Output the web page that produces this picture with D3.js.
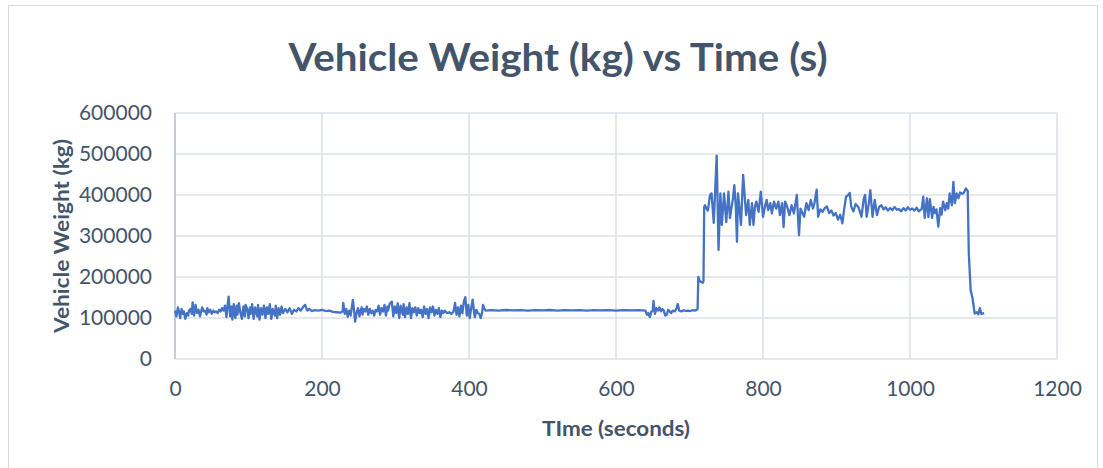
<!DOCTYPE html>
<html>
<head>
<meta charset="utf-8">
<script src="https://cdn.jsdelivr.net/npm/d3@7/dist/d3.min.js"></script>
<style>
  html, body { margin: 0; padding: 0; background: #ffffff; }
  svg { display: block; }
</style>
</head>
<body>
<svg id="chart" width="1103" height="468"></svg>
<script>
// Chart text
const chartTitle = "Vehicle Weight (kg) vs Time (s)";
const xAxisTitle = "TIme (seconds)";
const yAxisTitle = "Vehicle Weight (kg)";

// Axis ticks
const xTicks = [0, 200, 400, 600, 800, 1000, 1200];
const yTicks = [0, 100000, 200000, 300000, 400000, 500000, 600000];

// Logged samples: [time (s), vehicle weight (kg)]
const idleSamples = [
  [0,118000],[2,104000],[4,126000],[5,120000],[7,100000],[9,122000],[11,110000],[12,116000],[14,98000],
  [16,112000],[18,106000],[19,118000],[21,122000],[23,110000],[24,138000],[26,106000],[28,132000],[30,112000],
  [32,120000],[34,104000],[35,112000],[37,126000],[39,116000],[41,118000],[43,108000],[44,124000],[46,114000],
  [48,120000],[50,110000],[52,118000],[54,114000],[56,116000],[58,112000],[60,120000],[62,116000],
  [64,124000],[66,118000],[68,130000],[70,102000],[72,138000],[73,152000],[75,104000],[77,128000],
  [78,96000],[80,134000],[82,100000],[84,130000],[85,108000],[87,136000],[89,112000],[91,98000],[93,128000],
  [95,104000],[96,132000],[98,124000],[100,100000],[102,126000],[103,110000],[105,134000],[107,98000],[109,126000],
  [110,118000],[112,104000],[113,132000],[115,96000],[117,124000],[119,108000],[121,130000],[122,120000],[123,100000],[125,126000],
  [127,110000],[129,134000],[131,98000],[133,122000],[134,114000],[136,106000],[137,130000],[139,100000],[141,124000],
  [143,108000],[145,128000],[147,112000],[150,122000],[153,114000],[156,124000],[159,110000],[162,120000],
  [165,116000],[168,124000],[171,118000],[174,126000],[177,132000],[180,118000],[183,122000],[186,117000],
  [190,119000],[195,118000],[200,120000],[205,117000],[210,118000],[215,115000],[220,114000],[225,113000],
  [228,116000],[229,137000],[231,110000],[233,122000],[235,103000],[237,118000],[239,106000],[242,144000],
  [244,112000],[245,91000],[247,112000],[249,124000],[251,104000],[252,116000],[254,126000],[255,108000],[257,122000],
  [259,116000],[261,128000],[263,108000],[265,122000],[267,112000],[269,118000],[271,106000],[273,120000],
  [275,116000],[277,130000],[279,108000],[281,124000],[283,116000],[285,132000],[287,106000],[289,128000],
  [290,118000],[292,134000],[295,140000],[297,104000],[299,128000],[301,112000],[303,136000],[305,100000],
  [307,130000],[308,122000],[310,108000],[311,134000],[313,102000],[315,126000],[317,110000],[319,136000],[321,100000],
  [323,124000],[325,114000],[327,126000],[329,106000],[331,124000],[333,112000],[335,120000],[337,102000],
  [339,128000],[341,110000],[343,122000],[345,100000],[347,126000],[349,114000],[351,128000],[353,106000],
  [355,120000],[357,110000],[359,124000],[361,102000],[363,118000],[365,112000],[367,118000],[370,112000],
  [373,114000],[376,110000],[379,116000],[381,137000],[383,108000],[385,126000],[387,104000],[389,130000],
  [391,112000],[393,140000],[395,151000],[397,106000],[399,132000],[401,100000],[403,124000],[405,145000],
  [407,112000],[408,102000],[410,120000],[412,112000],[414,110000],[416,100000],[418,114000],[419,132000],
  [421,122000],[423,118000]
];

const steadySamples = [
  [430,119000],[440,118000],[450,119500],[460,118500],[470,119000],[480,118000],[490,119000],[500,118500],
  [510,119500],[520,118000],[530,119000],[540,118500],[550,119000],[560,118000],[570,119000],[580,118500],
  [590,119000],[600,118000],[610,119000],[620,118500],[630,119000],[640,118000],
  [642,108000],[644,112000],[646,102000],[648,115000],[650,118000],[651,142000],[653,110000],[655,124000],
  [657,118000],[659,126000],[661,116000],[663,122000],[665,118000],[667,106000],[669,108000],[671,120000],
  [673,116000],[675,112000],[677,118000],[680,116000],[682,122000],[684,134000],[686,118000],[689,116000],
  [692,119000],[695,117000],[698,118000],[701,117000],[704,119000],[707,118000],[710,120000],[711,122000]
];

const loadedSamples = [
  [712,200000],[714,190000],[716,188000],[718,186000],[719,190000],[720,371000],[721,375000],[723,368000],
  [725,362000],[728,400000],[730,404000],[733,332000],[737,496000],[739.5,266000],[742,404000],[744,327000],
  [747,404000],[750,334000],[753,408000],[755,344000],[759,390000],[761,424000],[763,371000],[764.6,286000],
  [766,404000],[768,367000],[770,327000],[773,449000],[775,400000],[777,351000],[780,388000],[782,327000],
  [785,380000],[787,327000],[789,371000],[791,384000],[794,359000],[797,408000],[800,347000],[803,375000],
  [805,388000],[807,363000],[810,380000],[812,355000],[815,384000],[818,367000],[821,384000],[823,351000],
  [826,380000],[828,322000],[830,384000],[833,371000],[836,351000],[839,375000],[842,355000],[846,400000],
  [849,302000],[851,367000],[856,347000],[859,380000],[862,363000],[865,388000],[868,367000],[870,380000],
  [873,413000],[875,347000],[878,365000],[881,359000],[884,368000],[887,372000],[890,356000],[893,362000],
  [896,350000],[899,356000],[902,340000],[905,352000],[908,331000],[910,360000],[913,396000],[915,398000],
  [918,405000],[920,372000],[923,360000],[926,378000],[930,370000],[934,347000],[937,390000],[939,400000],
  [941,347000],[944,380000],[946,412000],[949,347000],[952,388000],[955,351000],[958,371000],[961,375000],
  [964,365000],[967,370000],[970,362000],[973,368000],[976,363000],[979,371000],[982,364000],[985,366000],
  [988,360000],[991,368000],[994,362000],[997,370000],[1000,364000],[1003,367000],[1006,362000],[1009,369000],
  [1012,360000],[1016,366000],[1018,396000],[1020,344000],[1023,392000],[1025,346000],[1027,390000],
  [1030,344000],[1032,371000],[1034,356000],[1036,365000],[1038.5,323000],[1041,368000],[1043,352000],
  [1045,384000],[1048,363000],[1050,380000],[1052,367000],[1054,404000],[1057,375000],[1059,432000],
  [1061,380000],[1063.5,404000],[1066,392000],[1068,406000],[1071,403000],[1073,405000],[1076,416000],
  [1078.5,410000],[1080,258000],[1082.5,168000],[1085,149000],[1088,111000],[1091,114000],[1093,109000],
  [1095,124000],[1097,110000],[1101,112000]
];

const samples = idleSamples.concat(steadySamples, loadedSamples);

// Layout
const plot = { left: 175, right: 1057, top: 113, bottom: 359 };
const textColor = "#44546a";
const gridColor = "#dde1e8";
const fontFamily = "Lato, 'Open Sans', 'Liberation Sans', sans-serif";

const svg = d3.select("#chart");

// Outer chart frame
svg.append("rect")
  .attr("x", 8.5).attr("y", 5.5)
  .attr("width", 1089).attr("height", 475)
  .attr("fill", "#ffffff")
  .attr("stroke", "#d9d9d9")
  .attr("stroke-width", 1);

const x = d3.scaleLinear().domain([0, 1200]).range([plot.left, plot.right]);
const y = d3.scaleLinear().domain([0, 600000]).range([plot.bottom, plot.top]);

// Gridlines
const grid = svg.append("g");
grid.selectAll("line.h")
  .data(yTicks)
  .join("line")
  .attr("class", "h")
  .attr("x1", plot.left).attr("x2", plot.right)
  .attr("y1", d => y(d)).attr("y2", d => y(d))
  .attr("stroke", gridColor).attr("stroke-width", 1.6);
grid.selectAll("line.v")
  .data(xTicks.filter(d => d > 0))
  .join("line")
  .attr("class", "v")
  .attr("x1", d => x(d)).attr("x2", d => x(d))
  .attr("y1", plot.top).attr("y2", plot.bottom)
  .attr("stroke", gridColor).attr("stroke-width", 1.6);

// Vertical value axis line
svg.append("line")
  .attr("x1", plot.left).attr("x2", plot.left)
  .attr("y1", plot.top).attr("y2", plot.bottom)
  .attr("stroke", "#b4bfd0").attr("stroke-width", 1.6);

// Axes (labels only)
const yAxis = svg.append("g")
  .attr("transform", `translate(${plot.left},0)`)
  .call(d3.axisLeft(y).tickValues(yTicks).tickFormat(d3.format("d")).tickSize(0).tickPadding(23));
const xAxis = svg.append("g")
  .attr("transform", `translate(0,${plot.bottom})`)
  .call(d3.axisBottom(x).tickValues(xTicks).tickFormat(d3.format("d")).tickSize(0).tickPadding(22));
[yAxis, xAxis].forEach(g => {
  g.select(".domain").remove();
  g.selectAll("text")
    .attr("fill", textColor)
    .style("font-family", fontFamily)
    .style("font-size", "21px");
});

// Weight trace
const line = d3.line().x(d => x(d[0])).y(d => y(d[1]));
svg.append("path")
  .datum(samples)
  .attr("d", line)
  .attr("fill", "none")
  .attr("stroke", "#4472c4")
  .attr("stroke-width", 2.3)
  .attr("stroke-linejoin", "round");

// Titles
svg.append("text")
  .attr("x", 558).attr("y", 71)
  .attr("text-anchor", "middle")
  .attr("textLength", 539).attr("lengthAdjust", "spacingAndGlyphs")
  .attr("fill", textColor)
  .style("font-family", fontFamily)
  .style("font-weight", "bold")
  .style("font-size", "38px")
  .text(chartTitle);

svg.append("text")
  .attr("x", 616).attr("y", 436)
  .attr("text-anchor", "middle")
  .attr("textLength", 148).attr("lengthAdjust", "spacingAndGlyphs")
  .attr("fill", textColor)
  .style("font-family", fontFamily)
  .style("font-weight", "bold")
  .style("font-size", "21px")
  .text(xAxisTitle);

svg.append("text")
  .attr("transform", "translate(69,236) rotate(-90)")
  .attr("text-anchor", "middle")
  .attr("textLength", 194).attr("lengthAdjust", "spacingAndGlyphs")
  .attr("fill", textColor)
  .style("font-family", fontFamily)
  .style("font-weight", "bold")
  .style("font-size", "21px")
  .text(yAxisTitle);
</script>
</body>
</html>
